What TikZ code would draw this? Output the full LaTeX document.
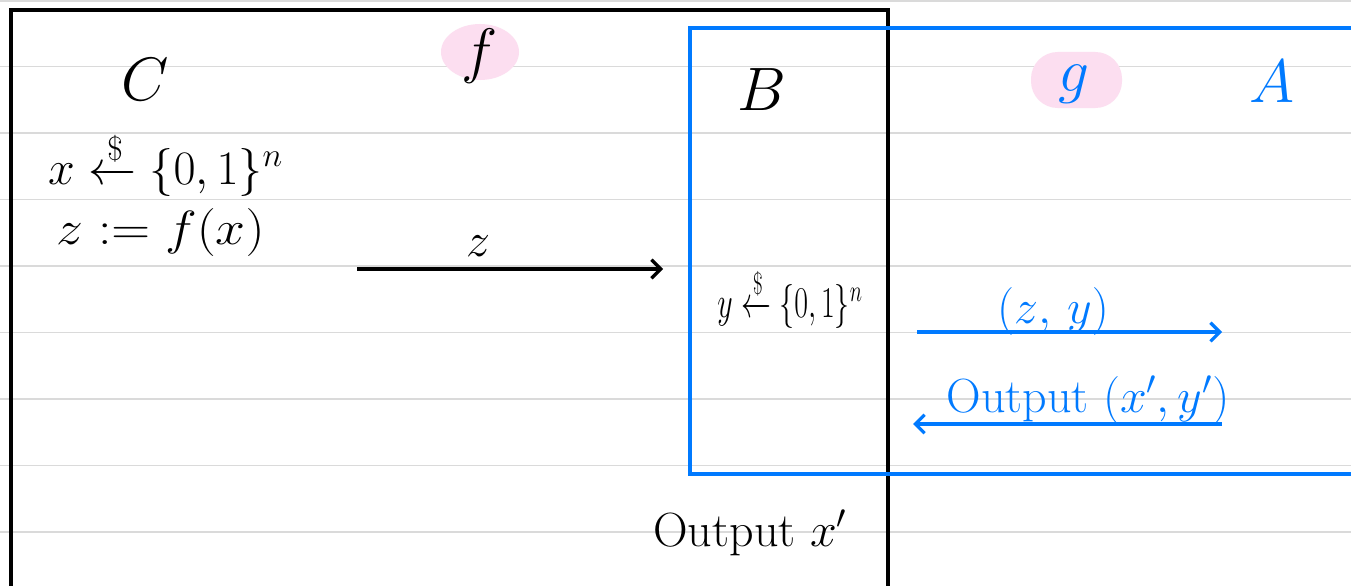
\RequirePackage{fix-cm}
\documentclass[tikz,border=0pt]{standalone}
\usepackage{amsmath}
\usetikzlibrary{arrows.meta}
\definecolor{inkblue}{RGB}{0,122,255}
\definecolor{hlpink}{RGB}{252,222,240}
\definecolor{ruleline}{RGB}{218,218,218}
\tikzset{
  ruled/.style={ruleline, line width=1.4pt},
  blackframe/.style={black, line width=3pt},
  blueframe/.style={inkblue, line width=2.6pt},
  hl/.style={fill=hlpink},
  big/.style={inner sep=0pt, font=\fontsize{46}{52}\selectfont},
  mid/.style={inner sep=0pt, font=\fontsize{36}{42}\selectfont},
  blk/.style={black, line width=2.4pt, -{Straight Barb[length=7pt,width=14pt,line width=2.4pt]}},
  blu/.style={inkblue, line width=2.4pt, -{Straight Barb[length=7pt,width=14pt,line width=2.4pt]}},
}
\begin{document}
\begin{tikzpicture}[x=0.75pt,y=-0.75pt]
\useasboundingbox (0,0) rectangle (1351,585);
\fill[white] (0,0) rectangle (1351,585);
% ruled paper
\foreach \yy in {1,66.5,133,199.5,266,332.5,399,465.5,532}
  \draw[ruled] (0,\yy) -- (1351,\yy);
% highlights
\fill[hl] (480,52) ellipse (39 and 28);
\fill[hl, rounded corners=20pt] (1031,52) rectangle (1122,108);
% frames
\draw[blackframe] (11,595) -- (11,10) -- (888,10) -- (888,595);
\draw[blueframe] (1360,28) -- (690,28) -- (690,474) -- (1360,474);
% labels
\node[big] (C) at (145,80) {$C$};
\node[big] (f) at (480,56) {$f$};
\node[big] (B) at (762,90) {$B$};
\node[big, text=inkblue] (g) at (1074,84) {$g$};
\node[big, text=inkblue] (A) at (1272,82) {$A$};
\node[mid, anchor=west] (xs) at (48,164) {$x \xleftarrow{\$} \{0,1\}^n$};
\node[mid, anchor=west] (zf) at (56,232) {\scalebox{1.12}[1]{$z := f(x)$}};
\node[inner sep=0pt, font=\fontsize{33}{38}\selectfont] (ys) at (790,298) {\scalebox{0.68}[1]{$y \xleftarrow{\$} \{0,1\}^n$}};
\node[mid] (out) at (750,533) {Output $x'$};
% arrows
\coordinate (z1) at (357,269);
\coordinate (z2) at (663,269);
\draw[blk] (z1) -- (z2);
\node[mid] (zl) at (478,246) {$z$};
\coordinate (q1) at (917,332);
\coordinate (q2) at (1222,332);
\draw[blu] (q1) -- (q2);
\node[mid, text=inkblue] (zy) at (1053,311) {$(z,\,y)$};
\coordinate (r1) at (1222,424);
\coordinate (r2) at (913,424);
\draw[blu] (r1) -- (r2);
\node[mid, text=inkblue] (outxy) at (1088,400) {Output $(x',y')$};
\end{tikzpicture}
\end{document}
